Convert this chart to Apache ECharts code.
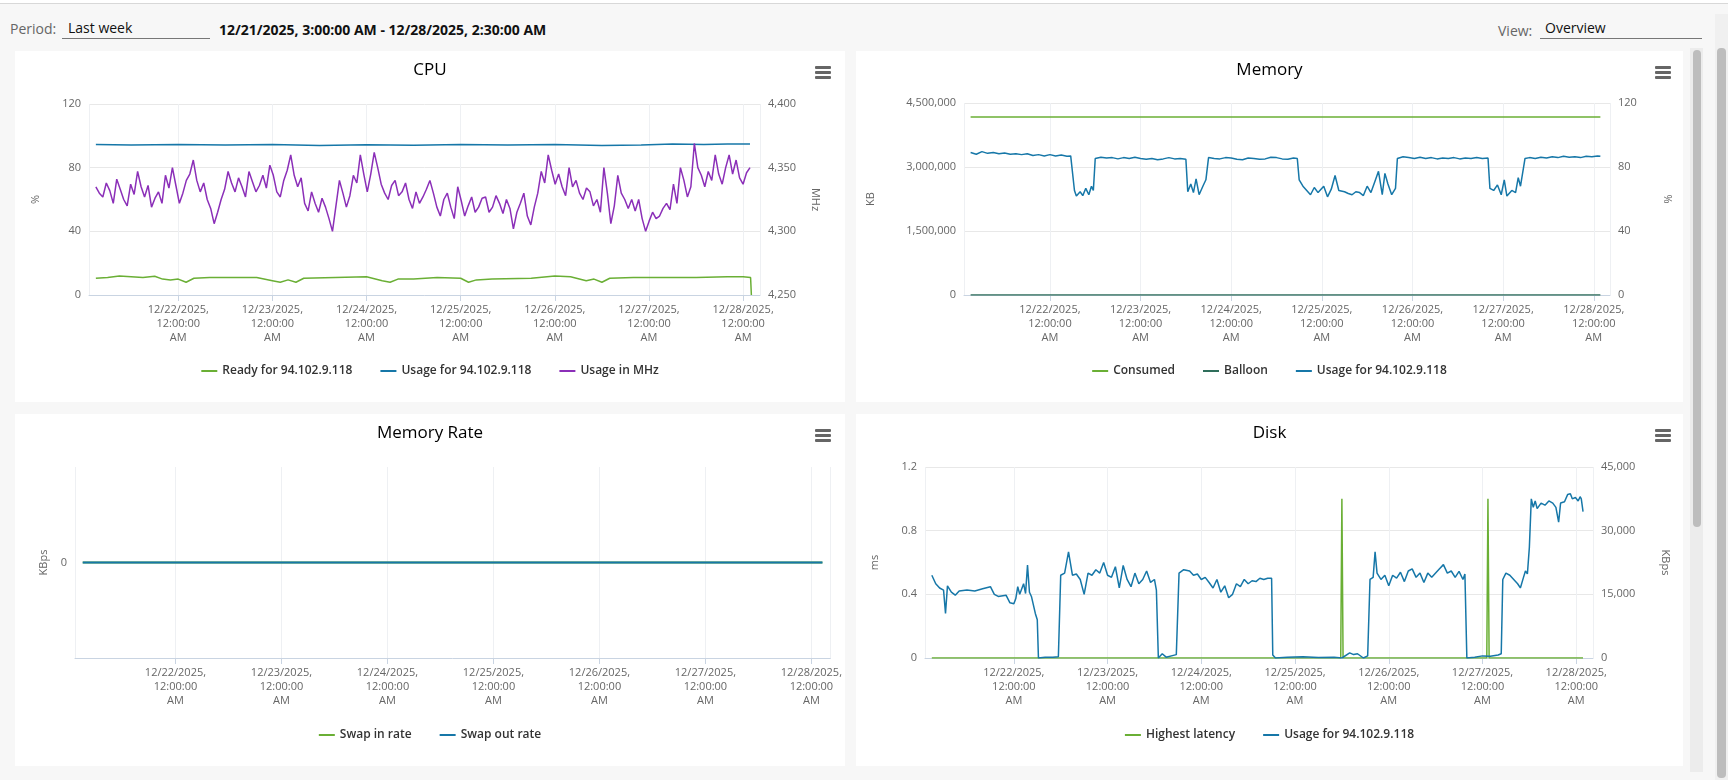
<!DOCTYPE html>
<html>
<head>
<meta charset="utf-8">
<script src="https://cdn.jsdelivr.net/npm/echarts@6/dist/echarts.min.js"></script>
<style>
  html, body { margin: 0; padding: 0; }
  body { width: 1728px; height: 780px; background: #f7f7f7; font-family: 'Open Sans', sans-serif; position: relative; overflow: hidden; }
  .topline { position: absolute; left: 0; top: 0; width: 1728px; height: 3px; background: #fff; border-bottom: 1px solid #d8d8d8; }
  .lbl { position: absolute; font-size: 14px; color: #666; }
  .inp { position: absolute; font-size: 14px; color: #111; border-bottom: 1px solid #777; height: 20px; }
  .range { position: absolute; left: 219px; top: 20px; font-size: 14px; font-weight: 700; color: #111; }
  .card { position: absolute; background: #fff; }
  .menu { position: absolute; width: 16px; height: 13px; }
  .menu i { display: block; height: 3px; background: #666; margin-bottom: 2px; border-radius: 1px; }
  .track { position: absolute; background: #ececec; }
  .thumb { position: absolute; background: #bdbdbd; border-radius: 4px; }
</style>
</head>
<body>
<div class="topline"></div>
<div class="lbl" style="left:10px;top:19px">Period:</div>
<div class="inp" style="left:62px;top:18px;width:142px;padding-left:6px">Last week</div>
<div class="range">12/21/2025, 3:00:00 AM - 12/28/2025, 2:30:00 AM</div>
<div class="lbl" style="left:1498px;top:21px">View:</div>
<div class="inp" style="left:1540px;top:18px;width:157px;padding-left:5px">Overview</div>

<div class="card" id="cpu" style="left:15px;top:51px;width:830px;height:351px"></div>
<div class="card" id="mem" style="left:856px;top:51px;width:827px;height:351px"></div>
<div class="card" id="rate" style="left:15px;top:414px;width:830px;height:352px"></div>
<div class="card" id="disk" style="left:856px;top:414px;width:827px;height:352px"></div>

<div class="menu" style="left:815px;top:66px"><i></i><i></i><i></i></div>
<div class="menu" style="left:1655px;top:66px"><i></i><i></i><i></i></div>
<div class="menu" style="left:815px;top:429px"><i></i><i></i><i></i></div>
<div class="menu" style="left:1655px;top:429px"><i></i><i></i><i></i></div>

<div class="track" style="left:1690px;top:48px;width:13px;height:724px"></div>
<div class="thumb" style="left:1693px;top:50px;width:8px;height:477px"></div>
<div class="track" style="left:1715px;top:14px;width:13px;height:766px;background:#f0f0f0"></div>
<div class="thumb" style="left:1717px;top:48px;width:9px;height:730px"></div>

<script>
// hours are counted from 12/22/2025 00:00
var T0 = new Date(2025, 11, 22, 0, 0, 0).getTime();
var H = 3600000;
var xMin = T0 - 22.75 * H;
var xMax = T0 + (6 * 24 + 4.3) * H;

// CPU: usage in MHz, evenly sampled from 12/21 03:00
var mhzStartHour = -21;
var mhzStepHours = 0.887;
var usageMhz = [4335,4330,4327,4338,4332,4322,4341,4333,4325,4320,4337,4329,4347,4335,4327,4336,4319,4326,4331,
  4322,4344,4334,4350,4336,4322,4330,4340,4345,4356,4340,4331,4338,4325,4318,4306,4315,4325,4333,4347,
  4338,4331,4342,4335,4327,4347,4339,4331,4336,4344,4334,4352,4344,4331,4327,4340,4348,4360,4344,4335,
  4342,4322,4316,4331,4322,4315,4326,4319,4310,4300,4320,4340,4330,4319,4328,4344,4338,4360,4345,4331,
  4345,4362,4350,4337,4330,4325,4336,4340,4328,4331,4338,4325,4318,4331,4322,4327,4333,4340,4330,4319,
  4312,4325,4330,4319,4310,4335,4324,4312,4320,4327,4315,4319,4326,4327,4315,4319,4328,4322,4314,4325,
  4318,4302,4315,4322,4330,4312,4305,4319,4330,4347,4338,4360,4348,4337,4345,4335,4328,4350,4335,4340,
  4330,4325,4334,4331,4320,4325,4315,4350,4330,4306,4320,4344,4330,4325,4318,4325,4316,4325,4310,4300,
  4308,4315,4310,4312,4318,4322,4317,4337,4322,4350,4340,4327,4335,4369,4350,4344,4335,4347,4340,4360,
  4345,4337,4350,4360,4345,4356,4342,4337,4346,4350];
// CPU: usage % and ready % as [hour, value]
var cpuUsagePct = [[-21,94.5],[-12,94.3],[0,94.6],[12,94.2],[24,94.5],[36,94.0],[48,94.4],[60,94.1],
  [72,94.6],[84,94.3],[96,94.5],[108,94.0],[118,94.2],[126,94.8],[134,94.6],[140,94.9],[145.75,94.8]];
var cpuReady = [[-21,10.5],[-18,11],[-15,12],[-12,11.5],[-9,11],[-6,11.8],[-4,10],[-2,9.5],[0,10],[2,8],[4,10.5],
  [8,11],[14,11],[20,11],[24,9],[26,8],[28,9.5],[30,8],[32,10.5],[40,11],[48,11.5],[52,9],[54,8],[56,10],
  [60,10],[66,11],[72,10.5],[74,8],[76,9.5],[80,10],[90,10.5],[96,12],[100,11.5],[104,9],[106,10],[108,8],
  [110,10.5],[116,11],[124,11],[132,11],[140,11.5],[144,11.5],[145.9,11],[146.1,0]];

// Memory (KB)
var memConsumed = [[-21,4170000],[145.75,4170000]];
var memBalloon = [[-21,0],[145.75,0]];
var memUsage = [[-21,3340000],[-19.5,3300000],[-18,3360000],[-16.5,3320000],[-15,3340000],[-13.5,3310000],[-12,3330000],
  [-10.5,3300000],[-9,3310000],[-7.5,3290000],[-6,3310000],[-4.5,3270000],[-3,3290000],[-1.5,3260000],[0,3290000],
  [1.5,3260000],[3,3280000],[4.5,3250000],[5.5,3260000],[6.5,2450000],[7,2320000],[8,2420000],[8.7,2330000],
  [9.5,2500000],[10.3,2350000],[11,2550000],[11.5,2450000],[12,3200000],[13.5,3230000],[15,3210000],[16.5,3220000],
  [18,3190000],[19.5,3220000],[21,3200000],[22.5,3230000],[24,3200000],[25.5,3180000],[27,3200000],[28.5,3170000],
  [30,3190000],[31.5,3220000],[33,3190000],[34.5,3200000],[36,3180000],[36.5,2420000],[37.3,2600000],[38,2400000],
  [38.7,2720000],[39.5,2350000],[40.5,2550000],[41.3,2700000],[42,3220000],[43.5,3200000],[45,3190000],[46.5,3220000],
  [48,3210000],[49.5,3180000],[51,3170000],[52.5,3210000],[54,3200000],[55.5,3180000],[57,3190000],[58.5,3230000],
  [60,3220000],[61.5,3190000],[63,3180000],[64.5,3210000],[65.5,3200000],[66,2700000],[67,2550000],[68,2450000],
  [69,2350000],[70,2520000],[71,2400000],[72.5,2550000],[73.5,2300000],[74.5,2480000],[75.5,2800000],[76.5,2450000],
  [78,2420000],[79,2380000],[80,2350000],[81,2420000],[82,2400000],[83,2330000],[84,2550000],[85,2400000],
  [86,2650000],[87,2900000],[88,2350000],[88.7,2850000],[89.5,2600000],[90.5,2350000],[91.5,2500000],[92,3200000],
  [93.5,3240000],[95,3220000],[96.5,3200000],[98,3230000],[99.5,3200000],[101,3220000],[102.5,3190000],[104,3210000],
  [105.5,3200000],[107,3220000],[108.5,3190000],[110,3210000],[111.5,3200000],[113,3220000],[114.5,3200000],[116,3210000],
  [116.5,2500000],[117.5,2450000],[118.5,2580000],[119.5,2350000],[120.3,2700000],[121,2320000],[122.3,2450000],
  [123.3,2400000],[124,2750000],[124.6,2550000],[125.8,3200000],[127,3220000],[128.5,3200000],[130,3230000],
  [131.5,3210000],[133,3240000],[134.5,3220000],[136,3250000],[137.5,3230000],[139,3240000],[140.5,3220000],
  [142,3250000],[143.5,3240000],[145,3260000],[145.75,3250000]];

// Memory rate (KBps)
var swapIn = [[-21,0],[146.5,0]];
var swapOut = [[-21,0],[146.5,0]];

// Disk
var diskLatency = [[-21,0],[83.7,0],[84,1],[84.3,0],[121.1,0],[121.4,1],[121.7,0],[145.75,0]];
var diskUsage = [[-21,19500],[-20,17500],[-19,16500],[-18,16000],[-17.5,10500],[-17,17000],[-16,15500],[-15,14800],
  [-14,15800],[-12,16000],[-10,15800],[-8,16300],[-6,16800],[-5,15000],[-4,14500],[-2,14800],[-1,13000],[0,12800],
  [0.5,14000],[1,16800],[1.5,15000],[2,14800],[2.5,17500],[3,15200],[3.5,21900],[4,15500],[4.5,14500],[5,12500],
  [5.5,10500],[6,9000],[6.3,0],[8,200],[10,150],[11.4,300],[12,19500],[13,20000],[14,25000],[15,19500],[16,19800],
  [17,18500],[18,15000],[19,20000],[20,19500],[21,20800],[22,20000],[23,22500],[24,19500],[25,19000],[26,21500],
  [27,16500],[28,21800],[29,18500],[30,16800],[31,20000],[32,17500],[33,18500],[34,20500],[35,17800],[36,18500],
  [36.5,16000],[37,0],[38,1000],[39,200],[41.6,800],[42.3,20000],[43.5,20800],[45,20500],[46,19500],[47,19800],
  [48,18500],[49,19000],[50,17800],[51,16500],[52,18500],[53,15500],[54,17000],[55,14200],[56,15000],[57,17500],
  [58,16800],[59,18500],[60,17500],[61,18200],[62,18000],[63,18800],[64,18500],[65,18800],[66,18800],[66.3,700],
  [67,0],[70,150],[74,300],[78,100],[82,200],[84,0],[86,1200],[87,800],[88,1000],[89.5,0],[90.6,500],[91.2,18500],
  [92,19000],[92.5,25000],[93,20000],[94,18500],[95,19500],[96,17000],[97,19500],[98,18800],[99,20200],[100,18000],
  [101,20500],[102,21000],[103,19000],[104,20000],[105,17800],[106,20000],[107,19000],[108,20000],[109,21000],
  [110,22000],[111,20000],[112,20500],[113,19000],[114,20400],[115,18500],[115.5,19800],[116,0],[118,200],[120,500],
  [122,400],[124,700],[124.8,1000],[125.2,18500],[126,20000],[127,19500],[128,18500],[129,17500],[129.7,16500],
  [130.5,19000],[131,20500],[131.5,19800],[132,26000],[132.5,37500],[133,35500],[133.5,37000],[134,35200],[135,36500],
  [136,36000],[137,37000],[138,36500],[138.8,35500],[139.5,32000],[140,36500],[141,36800],[141.8,38500],[142.5,38700],
  [143,37500],[143.8,37800],[144.5,37000],[145,38000],[145.3,37500],[145.75,34500]];

var GREEN = '#6aaf35', BLUE = '#1677a8', PURPLE = '#8b2fb8', TEAL = '#2f6e5b';
var FONT = 'Open Sans';

function pts(arr) { return arr.map(function (p) { return [T0 + p[0] * H, p[1]]; }); }
function evenPts(vals, startH, stepH) { return vals.map(function (v, i) { return [T0 + (startH + i * stepH) * H, v]; }); }
function fmtNum(v) { return Number(v).toLocaleString('en-US'); }

function xAxis() {
  return {
    type: 'time', min: xMin, max: xMax,
    minInterval: 24 * H, maxInterval: 24 * H,
    axisLine: { show: true, onZero: false, lineStyle: { color: '#c9d4e2' } },
    axisTick: { show: true, length: 6, lineStyle: { color: '#c9d4e2' } },
    splitLine: { show: true, lineStyle: { color: '#eef0f3' } },
    axisLabel: {
      color: '#666', fontFamily: FONT, fontSize: 11, lineHeight: 14, showMinLabel: false, showMaxLabel: false,
      formatter: function (v) {
        var d = new Date(v);
        return (d.getMonth() + 1) + '/' + d.getDate() + '/' + d.getFullYear() + ',\n12:00:00\nAM';
      }
    }
  };
}
function yAxis(o) {
  return Object.assign({
    type: 'value',
    nameLocation: 'middle',
    nameTextStyle: { color: '#666', fontFamily: FONT, fontSize: 11 },
    axisLine: { show: false }, axisTick: { show: false },
    axisLabel: { color: '#666', fontFamily: FONT, fontSize: 11, formatter: fmtNum },
    splitLine: { show: true, lineStyle: { color: '#e8e8e8' } }
  }, o);
}
function base(title, grid, names) {
  return {
    animation: false,
    title: { text: title, left: 'center', top: 6, textStyle: { fontFamily: FONT, fontSize: 17, fontWeight: 'normal', color: '#000' } },
    legend: { data: names, bottom: 20, itemGap: 28, icon: 'rect', itemWidth: 16, itemHeight: 2,
      textStyle: { fontFamily: FONT, fontSize: 12, fontWeight: 600, color: '#333' } },
    grid: grid,
    xAxis: xAxis()
  };
}
function line(name, color, data, yIdx, width) {
  return { name: name, type: 'line', data: data, yAxisIndex: yIdx || 0, symbol: 'none',
    lineStyle: { color: color, width: width || 1.5 }, itemStyle: { color: color } };
}

var cpu = echarts.init(document.getElementById('cpu'));
var o = base('CPU', { left: 74, right: 85, top: 53, bottom: 107 }, ['Ready for 94.102.9.118', 'Usage for 94.102.9.118', 'Usage in MHz']);
o.yAxis = [
  yAxis({ name: '%', nameGap: 48, nameRotate: 90, min: 0, max: 120, interval: 40 }),
  yAxis({ name: 'MHz', nameGap: 50, nameRotate: -90, position: 'right', min: 4250, max: 4400, interval: 50, splitLine: { show: false } })
];
o.series = [
  line('Ready for 94.102.9.118', GREEN, pts(cpuReady), 0),
  line('Usage for 94.102.9.118', BLUE, pts(cpuUsagePct), 0),
  line('Usage in MHz', PURPLE, evenPts(usageMhz, mhzStartHour, mhzStepHours), 1)
];
cpu.setOption(o);

var mem = echarts.init(document.getElementById('mem'));
o = base('Memory', { left: 108, right: 73, top: 52, bottom: 107 }, ['Consumed', 'Balloon', 'Usage for 94.102.9.118']);
o.yAxis = [
  yAxis({ name: 'KB', nameGap: 88, nameRotate: 90, min: 0, max: 4500000, interval: 1500000 }),
  yAxis({ name: '%', nameGap: 52, nameRotate: -90, position: 'right', min: 0, max: 120, interval: 40, splitLine: { show: false } })
];
o.series = [
  line('Consumed', GREEN, pts(memConsumed), 0),
  line('Balloon', TEAL, pts(memBalloon), 0),
  line('Usage for 94.102.9.118', BLUE, pts(memUsage), 0)
];
mem.setOption(o);

var rate = echarts.init(document.getElementById('rate'));
o = base('Memory Rate', { left: 60, right: 12, top: 53, bottom: 108 }, ['Swap in rate', 'Swap out rate']);
o.yAxis = [
  yAxis({ name: 'KBps', nameGap: 24, nameRotate: 90, min: -1, max: 1, interval: 1, splitLine: { show: false },
    axisLabel: { color: '#666', fontFamily: FONT, fontSize: 11, formatter: function (v) { return v === 0 ? '0' : ''; } } })
];
o.series = [
  line('Swap in rate', GREEN, pts(swapIn), 0, 2),
  line('Swap out rate', BLUE, pts(swapOut), 0, 2)
];
rate.setOption(o);

var disk = echarts.init(document.getElementById('disk'));
o = base('Disk', { left: 69, right: 90, top: 53, bottom: 108 }, ['Highest latency', 'Usage for 94.102.9.118']);
o.yAxis = [
  yAxis({ name: 'ms', nameGap: 45, nameRotate: 90, min: 0, max: 1.2, interval: 0.4,
    axisLabel: { color: '#666', fontFamily: FONT, fontSize: 11, formatter: function (v) { return String(Math.round(v * 10) / 10); } } }),
  yAxis({ name: 'KBps', nameGap: 67, nameRotate: -90, position: 'right', min: 0, max: 45000, interval: 15000, splitLine: { show: false } })
];
o.series = [
  line('Highest latency', GREEN, pts(diskLatency), 0),
  line('Usage for 94.102.9.118', BLUE, pts(diskUsage), 1)
];
disk.setOption(o);
</script>
</body>
</html>
